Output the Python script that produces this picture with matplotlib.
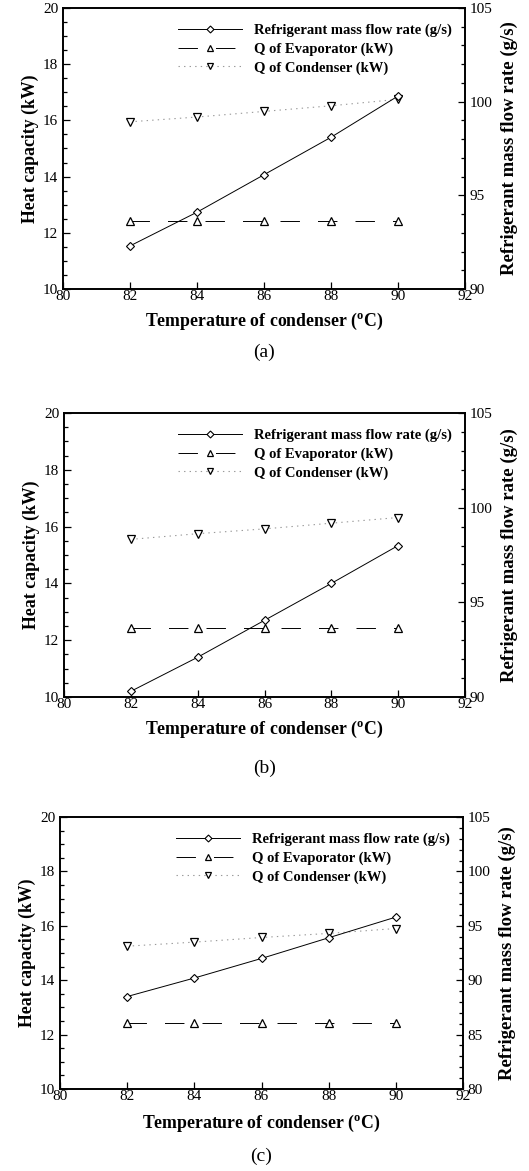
import numpy as np
import matplotlib
matplotlib.use("Agg")
import matplotlib.pyplot as plt
from matplotlib.ticker import MultipleLocator

plt.rcParams['font.family'] = ['Liberation Serif', 'DejaVu Serif']
plt.rcParams['mathtext.fontset'] = 'custom'
plt.rcParams['mathtext.rm'] = 'Liberation Serif'
plt.rcParams['mathtext.bf'] = 'Liberation Serif:bold'
plt.rcParams['lines.scale_dashes'] = False

# condenser temperature (degC)
temp = [82, 84, 86, 88, 90]

# panel (a)
flow_a = [92.3, 94.1, 96.1, 98.1, 100.3]
evap_a = [12.42, 12.42, 12.42, 12.42, 12.42]
cond_a = [15.95, 16.12, 16.32, 16.52, 16.75]

# panel (b)
flow_b = [90.3, 92.1, 94.05, 96.0, 98.0]
evap_b = [12.42, 12.42, 12.42, 12.42, 12.42]
cond_b = [15.55, 15.75, 15.92, 16.12, 16.32]

# panel (c)
flow_c = [88.5, 90.2, 92.0, 93.9, 95.8]
evap_c = [12.42, 12.42, 12.42, 12.42, 12.42]
cond_c = [15.25, 15.4, 15.57, 15.72, 15.9]

panels = [
    # flow, evap, cond, right-axis range, axes box (px), xlabel y, caption y, caption
    (flow_a, evap_a, cond_a, (90, 105), [63, 8, 465, 289], 321, 352, '(a)'),
    (flow_b, evap_b, cond_b, (90, 105), [64, 413, 465, 697], 729, 768, '(b)'),
    (flow_c, evap_c, cond_c, (80, 105), [60, 817, 463, 1089], 1123, 1156, '(c)'),
]

W, H = 529, 1171
fig = plt.figure(figsize=(W / 100, H / 100), dpi=100)

for flow, evap, cond, rlim, box, xl_y, cap_y, cap in panels:
    x0, y0, x1, y1 = box
    ax = fig.add_axes([x0 / W, 1 - y1 / H, (x1 - x0) / W, (y1 - y0) / H])
    ax2 = ax.twinx()

    l2, = ax.plot(temp, evap, color='black', lw=0.7, marker='^', ms=5.3,
                  mfc='white', mec='black', mew=0.9, dashes=(14, 13))
    l3, = ax.plot(temp, cond, color='#9a9a9a', lw=0.8, ls=(0, (1, 3)), marker='v',
                  ms=5.3, mfc='white', mec='black', mew=0.9)
    l1, = ax2.plot(temp, flow, color='black', lw=0.7, marker='D', ms=4.4,
                   mfc='white', mec='black', mew=0.8)

    ax.set_xlim(80, 92)
    ax.set_ylim(10, 20)
    ax2.set_ylim(*rlim)
    ax.xaxis.set_major_locator(MultipleLocator(2))
    ax.yaxis.set_major_locator(MultipleLocator(2))
    ax.yaxis.set_minor_locator(MultipleLocator(0.5))
    ax2.yaxis.set_major_locator(MultipleLocator(5))
    ax2.yaxis.set_minor_locator(MultipleLocator(1))

    ax.tick_params(axis='both', which='both', direction='in', labelsize=11, width=0.9)
    ax.tick_params(axis='both', which='major', length=5)
    ax.tick_params(axis='y', which='minor', length=3)
    ax.tick_params(axis='x', pad=1)
    ax2.tick_params(axis='y', which='both', direction='in', labelsize=11, width=0.9)
    ax2.tick_params(axis='y', which='major', length=5)
    ax2.tick_params(axis='y', which='minor', length=3)
    for a in (ax, ax2):
        for s in a.spines.values():
            s.set_linewidth(1.2)

    ax.set_ylabel('Heat capacity (kW)', fontsize=12.8, fontweight='bold', labelpad=3)
    ax2.set_ylabel('Refrigerant mass flow rate (g/s)', fontsize=13.5, fontweight='bold',
                   labelpad=6)

    xc = (x0 + x1) / 2 / W
    fig.text(xc, 1 - xl_y / H, r'Temperature of condenser ($\mathbf{^o}$C)',
             ha='center', va='center', fontsize=12.8, fontweight='bold')
    fig.text(xc, 1 - cap_y / H, cap, ha='center', va='center', fontsize=14)

    ax2.legend([l1, l2, l3],
               ['Refrigerant mass flow rate (g/s)', 'Q of Evaporator (kW)',
                'Q of Condenser (kW)'],
               loc='upper right', bbox_to_anchor=(1.0, 0.99), frameon=False,
               handlelength=4.4, numpoints=1, labelspacing=0.35, handletextpad=0.8,
               markerscale=0.8, prop={'weight': 'bold', 'size': 10.5})

fig.savefig('out.png', dpi=100)
